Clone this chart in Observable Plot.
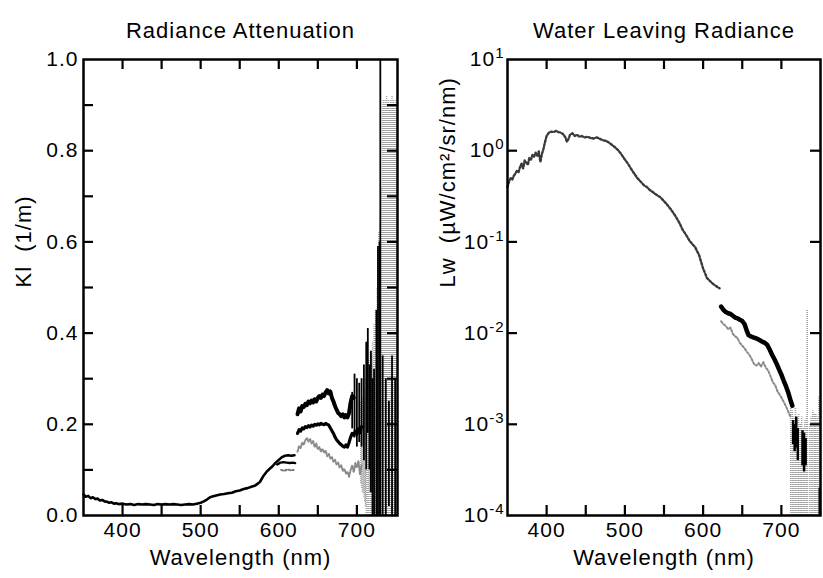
<!DOCTYPE html>
<html><head><meta charset="utf-8">
<script src="https://cdn.jsdelivr.net/npm/d3@7"></script>
<script src="https://cdn.jsdelivr.net/npm/@observablehq/plot@0.6"></script>
<style>
body{margin:0;background:#fff;}
#wrap{display:flex;width:823px;height:578px;background:#fff;}
svg text{letter-spacing:1px;}
</style></head><body><div id="wrap"></div>
<script>
// ---------- Left panel: Radiance Attenuation (Kl, 1/m) ----------
const kBaseWl = [350,353,356,359,362,365,368,371,374,377,380,383,386,389,392,395,400,405,410,415,420,425,430,435,440,445,450,455,460,465,470,475,480,485,490,495,500,504,508,512,516,520,525,530,535,540,545,550,555,560,565,570,574,576,580,584,588,592,596,600,604,608,612,616,620];
const kBase   = [0.046,0.041,0.043,0.038,0.040,0.036,0.037,0.033,0.034,0.031,0.030,0.028,0.029,0.026,0.027,0.025,0.026,0.024,0.025,0.023,0.025,0.024,0.025,0.024,0.023,0.025,0.024,0.025,0.024,0.025,0.024,0.023,0.024,0.025,0.024,0.026,0.028,0.031,0.035,0.040,0.042,0.044,0.046,0.047,0.049,0.050,0.053,0.055,0.058,0.060,0.063,0.066,0.071,0.074,0.086,0.095,0.102,0.108,0.116,0.122,0.128,0.131,0.132,0.131,0.132];
const kMidPreWl = [598,602,606,610,614,618,621];
const kMidPre   = [0.112,0.116,0.117,0.116,0.115,0.116,0.115];
const kLowPreWl = [603,607,611,615,619];
const kLowPre   = [0.100,0.098,0.101,0.099,0.100];
const kTopWl = [624,626,628,630,632,634,636,638,640,642,644,646,648,650,652,654,656,658,660,662,664,666,668,670,672,674,676,678,680,682,684,686,688,690,692,694,696];
const kTop   = [0.222,0.235,0.228,0.240,0.238,0.245,0.242,0.250,0.246,0.252,0.248,0.255,0.250,0.258,0.262,0.258,0.265,0.262,0.270,0.275,0.268,0.272,0.258,0.250,0.240,0.232,0.225,0.222,0.218,0.222,0.215,0.220,0.215,0.225,0.248,0.262,0.258];
const kMidWl = [624,626,628,630,632,634,636,638,640,642,644,646,648,650,652,654,656,658,660,662,664,666,668,670,672,674,676,678,680,682,684,686,688,690,692,694,696,698,700,702,704,706];
const kMid   = [0.180,0.188,0.185,0.192,0.190,0.195,0.193,0.197,0.194,0.198,0.196,0.200,0.198,0.201,0.199,0.202,0.200,0.199,0.202,0.200,0.198,0.192,0.186,0.180,0.172,0.166,0.162,0.158,0.155,0.152,0.150,0.155,0.150,0.160,0.172,0.180,0.176,0.185,0.178,0.190,0.182,0.195];
const kLowWl = [624,626,628,630,632,634,636,638,640,642,644,646,648,650,652,654,656,658,660,662,664,666,668,670,672,674,676,678,680,682,684,686,688,690,692,694,696,698,700,702,704,706];
const kLow   = [0.140,0.152,0.148,0.160,0.155,0.165,0.170,0.162,0.168,0.158,0.163,0.150,0.158,0.145,0.150,0.140,0.146,0.138,0.142,0.130,0.135,0.125,0.128,0.118,0.122,0.112,0.116,0.105,0.110,0.098,0.102,0.092,0.096,0.085,0.100,0.110,0.095,0.115,0.105,0.120,0.090,0.110];
// noisy red-edge region (grey scatter): wavelength, low, high
const kNoiseWl = [705,706,707,708,709,710,711,712,713,714,715,716,717,718,719,720,721,722,723,724,725,726,727,728,729,730,731,732,733,734,735,736,737,738,739,740,741,742,743,744,745,746,747,748,749,750,751];
const kNoiseLo = [0.07,0.06,0.05,0.05,0.04,0.03,0.02,0.0,0.0,0.0,0.0,0.05,0.0,0.0,0.0,0.05,0.0,0.0,0.0,0.0,0.0,0.0,0.0,0.0,0.0,0.0,0.0,0.0,0.0,0.0,0.0,0.0,0.0,0.0,0.0,0.0,0.0,0.0,0.0,0.0,0.0,0.0,0.0,0.0,0.0,0.0,0.0];
const kNoiseHi = [0.25,0.24,0.26,0.22,0.28,0.25,0.30,0.27,0.32,0.30,0.34,0.28,0.36,0.30,0.33,0.38,0.35,0.42,0.40,0.45,0.43,0.50,0.55,0.62,0.58,0.65,0.60,0.72,0.90,0.91,0.90,0.91,0.90,0.92,0.90,0.91,0.90,0.89,0.91,0.90,0.92,0.90,0.91,0.90,0.90,0.91,0.90];
// black spikes in the noisy region
const kSpikeWl = [694,697,700,703,706,709,712,714,716,718,720,722,725,727,729,730,733,737,741,745,749];
const kSpikeLo = [0.19,0.17,0.15,0.16,0.15,0.12,0.10,0.18,0.10,0.05,0.0,0.0,0.0,0.0,0.0,0.0,0.0,0.0,0.02,0.0,0.0];
const kSpikeHi = [0.27,0.31,0.30,0.29,0.30,0.33,0.38,0.41,0.33,0.36,0.30,0.32,0.45,0.59,0.60,1.0,0.35,0.30,0.25,0.35,0.30];
const kXTicks = [400,450,500,550,600,650,700];
const kXLabels = [400,500,600,700];
const kYTicks = [0.1,0.2,0.3,0.4,0.5,0.6,0.7,0.8,0.9];
const kYLabels = [0.0,0.2,0.4,0.6,0.8,1.0];

// ---------- Right panel: Water Leaving Radiance (Lw) ----------
const lwBaseWl = [350,352,354,356,358,360,362,364,366,368,370,372,374,376,378,380,382,384,386,388,390,392,394,396,398,400,403,406,409,412,415,418,421,424,426,428,430,433,436,439,442,445,448,452,456,460,464,468,472,476,480,484,488,492,496,500,504,508,512,516,520,524,528,532,536,540,545,550,555,560,565,570,574,578,582,586,590,595,600,605,612,616,621];
const lwBase   = [0.40,0.46,0.50,0.48,0.53,0.56,0.60,0.58,0.66,0.72,0.64,0.78,0.74,0.70,0.84,0.80,0.90,0.86,0.95,0.88,0.98,0.75,0.92,1.05,1.25,1.45,1.58,1.62,1.60,1.65,1.60,1.58,1.52,1.40,1.25,1.35,1.50,1.55,1.45,1.50,1.42,1.45,1.40,1.42,1.38,1.36,1.40,1.35,1.30,1.28,1.22,1.15,1.08,1.00,0.90,0.80,0.72,0.63,0.56,0.50,0.46,0.42,0.40,0.37,0.35,0.33,0.31,0.28,0.25,0.22,0.19,0.16,0.135,0.12,0.105,0.095,0.087,0.071,0.051,0.040,0.035,0.033,0.031];
const lwTopWl = [623,626,629,632,635,638,641,644,647,650,653,656,658,661,664,667,670,673,676,679,682,685,688,691,694,697,700,703,706,709,712,714];
const lwTop   = [0.0195,0.018,0.017,0.0165,0.0162,0.0155,0.0148,0.0145,0.014,0.0136,0.0125,0.0105,0.0095,0.0092,0.009,0.0088,0.0086,0.0083,0.008,0.0078,0.0074,0.0066,0.0058,0.0052,0.0046,0.004,0.0035,0.003,0.0026,0.0022,0.0018,0.0016];
const lwLowWl = [623,626,629,632,635,638,641,644,647,650,653,656,659,662,665,668,671,674,677,680,683,686,689,692,695,698,701,704,707,710,712];
const lwLow   = [0.0135,0.0125,0.012,0.011,0.0115,0.0098,0.0092,0.0088,0.0078,0.0073,0.0068,0.0062,0.0058,0.0052,0.0046,0.0044,0.0047,0.0043,0.0048,0.0042,0.0039,0.0034,0.0029,0.0027,0.0023,0.0021,0.0019,0.0017,0.0015,0.0013,0.0012];
const lwNoiseWl = [712,714,716,718,720,722,724,726,728,730,732,733,736,738,740,742,744,746,748,750];
const lwNoiseLo = [0.0001,0.0001,0.0001,0.0001,0.0001,0.0001,0.0001,0.0001,0.0001,0.0001,0.0001,0.0001,0.0001,0.0001,0.0001,0.0001,0.0001,0.0001,0.0001,0.0001];
const lwNoiseHi = [0.0016,0.0014,0.0012,0.0015,0.0011,0.0013,0.0010,0.0012,0.0009,0.0011,0.0012,0.018,0.0010,0.0012,0.0014,0.0013,0.0013,0.0012,0.0020,0.0015];
const lwSpikeWl = [715,717,719,721,727,729,731,749];
const lwSpikeLo = [0.0006,0.0005,0.00055,0.0004,0.00035,0.0003,0.00035,0.0001];
const lwSpikeHi = [0.0011,0.0010,0.0012,0.0009,0.00085,0.0008,0.0007,0.0002];
const lwXTicks = [400,450,500,550,600,650,700];
const lwXLabels = [400,500,600,700];
const lwYTicks = [1e-3,1e-2,1e-1,1];
const lwYLabels = [1e-4,1e-3,1e-2,1e-1,1,10];

// ---------- helpers ----------
const pts = (wl, v) => wl.map((x, i) => ({x, y: v[i]}));
const rng = (wl, lo, hi) => wl.map((x, i) => ({x, lo: lo[i], hi: hi[i]}));
const expOf = d => Math.round(Math.log10(d));
const mkStyle = () => ({fontFamily: "Liberation Sans, Arial, sans-serif", fontSize: "21px", background: "#fff", color: "#000", overflow: "visible"});
const FONT = 22;

const LW = 411, LH = 578, LML = 83, LMR = 14, MT = 59, MB = 63;
const lpw = LW - LML - LMR, ph = LH - MT - MB, TL = 10;
const kXDom = [350, 752], kYDom = [0, 1];
// tick length (10px) expressed in data units of each scale
const kTx = (kXDom[1] - kXDom[0]) * TL / lpw;
const kTy = (kYDom[1] - kYDom[0]) * TL / ph;

const left = Plot.plot({
  width: LW, height: LH, marginLeft: LML, marginRight: LMR, marginTop: MT, marginBottom: MB,
  style: mkStyle(),
  x: {domain: kXDom},
  y: {domain: kYDom},
  marks: [
    Plot.ruleX(rng(kNoiseWl, kNoiseLo, kNoiseHi), {x: "x", y1: "lo", y2: "hi", stroke: "#a0a0a0", strokeWidth: 1.4, strokeDasharray: "1 1"}),
    Plot.line(pts(kLowPreWl, kLowPre), {x: "x", y: "y", stroke: "#777", strokeWidth: 2, strokeDasharray: "2 2"}),
    Plot.line(pts(kLowWl, kLow), {x: "x", y: "y", stroke: "#8a8a8a", strokeWidth: 2, strokeDasharray: "2 1.5"}),
    Plot.line(pts(kBaseWl, kBase), {x: "x", y: "y", stroke: "#000", strokeWidth: 2.6}),
    Plot.line(pts(kMidPreWl, kMidPre), {x: "x", y: "y", stroke: "#000", strokeWidth: 2.4}),
    Plot.line(pts(kMidWl, kMid), {x: "x", y: "y", stroke: "#000", strokeWidth: 3.2}),
    Plot.line(pts(kTopWl, kTop), {x: "x", y: "y", stroke: "#000", strokeWidth: 4}),
    Plot.ruleX(rng(kSpikeWl, kSpikeLo, kSpikeHi), {x: "x", y1: "lo", y2: "hi", stroke: "#000", strokeWidth: 1.8}),
    Plot.frame({stroke: "#000", strokeWidth: 2.5}),
    Plot.ruleX(kXTicks, {x: d => d, y1: kYDom[0], y2: kYDom[0] + kTy, stroke: "#000", strokeWidth: 2.2}),
    Plot.ruleX(kXTicks, {x: d => d, y1: kYDom[1] - kTy, y2: kYDom[1], stroke: "#000", strokeWidth: 2.2}),
    Plot.ruleY(kYTicks, {y: d => d, x1: kXDom[0], x2: kXDom[0] + kTx, stroke: "#000", strokeWidth: 2.2}),
    Plot.ruleY(kYTicks, {y: d => d, x1: kXDom[1] - kTx, x2: kXDom[1], stroke: "#000", strokeWidth: 2.2}),
    Plot.axisX(kXLabels, {tickSize: 0, tickPadding: 7, fontSize: 21, label: null}),
    Plot.axisY(kYLabels, {tickSize: 0, tickPadding: 5, fontSize: 21, tickFormat: d3.format(".1f"), label: null}),
    Plot.text(["Radiance Attenuation"], {frameAnchor: "top", dy: -37, fontSize: FONT}),
    Plot.text(["Wavelength (nm)"], {frameAnchor: "bottom", dy: 49, fontSize: FONT}),
    Plot.text(["Kl\u00a0\u00a0(1/m)"], {frameAnchor: "left", rotate: -90, dx: -60, fontSize: FONT})
  ]
});

const RW = 412, RML = 96, RMR = 3;
const rpw = RW - RML - RMR;
const lwXDom = [350, 750], lwYDom = [1e-4, 10];
const lwTx = (lwXDom[1] - lwXDom[0]) * TL / rpw;
const lwTyF = Math.pow(lwYDom[1] / lwYDom[0], TL / ph); // multiplicative factor for 10px on the log scale

const right = Plot.plot({
  width: RW, height: LH, marginLeft: RML, marginRight: RMR, marginTop: MT, marginBottom: MB,
  style: mkStyle(),
  x: {domain: lwXDom},
  y: {type: "log", domain: lwYDom},
  marks: [
    Plot.ruleX(rng(lwNoiseWl, lwNoiseLo, lwNoiseHi), {x: "x", y1: "lo", y2: "hi", stroke: "#a0a0a0", strokeWidth: 1.6, strokeDasharray: "1 1"}),
    Plot.line(pts(lwBaseWl, lwBase), {x: "x", y: "y", stroke: "#3a3a3a", strokeWidth: 2.4, strokeDasharray: "2 2"}),
    Plot.line(pts(lwLowWl, lwLow), {x: "x", y: "y", stroke: "#8a8a8a", strokeWidth: 2, strokeDasharray: "2 2"}),
    Plot.line(pts(lwTopWl, lwTop), {x: "x", y: "y", stroke: "#000", strokeWidth: 4.5}),
    Plot.ruleX(rng(lwSpikeWl, lwSpikeLo, lwSpikeHi), {x: "x", y1: "lo", y2: "hi", stroke: "#000", strokeWidth: 2.5}),
    Plot.frame({stroke: "#000", strokeWidth: 2.5}),
    Plot.ruleX(lwXTicks, {x: d => d, y1: lwYDom[0], y2: lwYDom[0] * lwTyF, stroke: "#000", strokeWidth: 2.2}),
    Plot.ruleX(lwXTicks, {x: d => d, y1: lwYDom[1] / lwTyF, y2: lwYDom[1], stroke: "#000", strokeWidth: 2.2}),
    Plot.ruleY(lwYTicks, {y: d => d, x1: lwXDom[0], x2: lwXDom[0] + lwTx, stroke: "#000", strokeWidth: 2.2}),
    Plot.ruleY(lwYTicks, {y: d => d, x1: lwXDom[1] - lwTx, x2: lwXDom[1], stroke: "#000", strokeWidth: 2.2}),
    Plot.axisX(lwXLabels, {tickSize: 0, tickPadding: 7, fontSize: 21, label: null}),
    Plot.axisY(lwYLabels, {tickSize: 0, tickPadding: 3, fontSize: 21, tickFormat: d => "10^" + expOf(d), label: null}),
    Plot.text(["Water Leaving Radiance"], {frameAnchor: "top", dy: -37, fontSize: FONT}),
    Plot.text(["Wavelength (nm)"], {frameAnchor: "bottom", dy: 49, fontSize: FONT}),
    Plot.text(["Lw\u00a0\u00a0(\u00b5W/cm\u00b2/sr/nm)"], {frameAnchor: "left", rotate: -90, dx: -60, fontSize: FONT})
  ]
});

// turn "10^e" tick labels into 10 with a raised exponent
right.querySelectorAll("text").forEach(t => {
  const m = /^10\^(-?\d+)$/.exec(t.textContent);
  if (!m) return;
  t.textContent = "10";
  const s = document.createElementNS("http://www.w3.org/2000/svg", "tspan");
  s.setAttribute("font-size", "15");
  s.setAttribute("dy", "-8");
  s.textContent = m[1];
  t.appendChild(s);
});

document.getElementById("wrap").append(left, right);
</script></body></html>
